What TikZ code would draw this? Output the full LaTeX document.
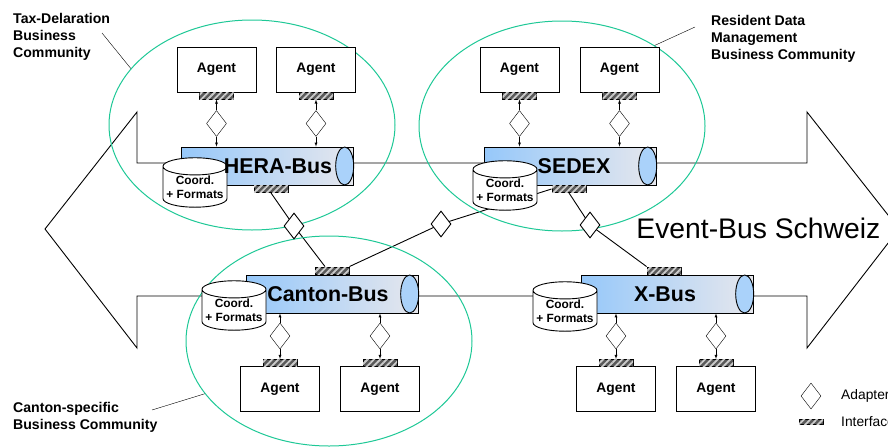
\documentclass[tikz,border=0pt]{standalone}
\usepackage{fontspec}
\setmainfont{Liberation Sans}
\usepackage{tikz}
\usetikzlibrary{shapes.geometric,patterns.meta,backgrounds,calc}
\definecolor{communitygreen}{RGB}{30,200,150}
\definecolor{busblue}{RGB}{150,200,250}
\definecolor{busgray}{RGB}{230,231,237}
\definecolor{capblue}{RGB}{170,210,250}
\tikzstyle{agent} = [rectangle, draw, fill=white, minimum width=79pt, minimum height=45pt, inner sep=0pt, font=\fontsize{13.8}{16}\selectfont\bfseries]
\tikzstyle{interface} = [rectangle, draw, fill=black!65, postaction={pattern={Lines[angle=45,distance=4.5pt,line width=1.8pt]}, pattern color=white!80!black}, minimum width=34pt, minimum height=7pt, inner sep=0pt]
\tikzstyle{adapter} = [diamond, draw, fill=white, minimum width=20pt, minimum height=26pt, inner sep=0pt]
\tikzstyle{bus} = [cylinder, draw, left color=busblue, right color=busgray, minimum width=38pt, minimum height=172pt, aspect=0.5, inner sep=0pt]
\tikzstyle{buslabel} = [inner sep=0pt, font=\fontsize{21.4}{24}\selectfont\bfseries]
\tikzstyle{store} = [cylinder, shape border rotate=90, draw, fill=white, minimum width=64pt, minimum height=42pt, aspect=0.3, inner sep=0pt, align=center, font=\fontsize{11.9}{14.5}\selectfont\bfseries]
\tikzstyle{region} = [ellipse, draw=communitygreen, line width=1pt, minimum width=286pt, minimum height=210pt]
\tikzstyle{caption} = [align=left, inner sep=0pt, anchor=north west, font=\fontsize{14.1}{17}\selectfont\bfseries]
\tikzstyle{link} = [line width=0.9pt]
\tikzstyle{connector} = [->, >=latex]

\begin{document}
\begin{tikzpicture}[x=1pt,y=-1pt,line width=0.9pt]
    \useasboundingbox (0,0) rectangle (888,447);
    \clip (0,0) rectangle (888,447);
    \draw (137,112) -- (45,229) -- (137,348) -- (137,296) -- (807,296) -- (807,348) -- (899,229) -- (807,112) -- (807,163) -- (137,163) -- cycle;
    \node (event-bus) [anchor=west, inner sep=0pt, font=\fontsize{28.3}{32}\selectfont] at (636,228) {Event-Bus Schweiz};
    \node (tax-region) [region] at (252,125) {};
    \node (resident-region) [region] at (562,126) {};
    \node (canton-region) [region] at (329,341) {};

    \node (hera-bus) [bus] at (267,166) {};
    \node (sedex-bus) [bus] at (570,166) {};
    \node (canton-bus) [bus] at (332,294) {};
    \node (x-bus) [bus] at (667,294) {};
    \foreach \b in {hera-bus,sedex-bus,canton-bus,x-bus}
        \draw [fill=capblue] ($(\b.top)+(-9,0)$) ellipse [x radius=9, y radius=19];
    \node (hera-store) [store] at (195,187) {Coord.\\+ Formats};
    \node (sedex-store) [store] at (505,190) {Coord.\\+ Formats};
    \node (canton-store) [store] at (234,310) {Coord.\\+ Formats};
    \node (x-store) [store] at (565,311) {Coord.\\+ Formats};
    \node (hera-name) [buslabel] at (278,166) {HERA-Bus};
    \node (sedex-name) [buslabel] at (574,166) {SEDEX};
    \node (canton-name) [buslabel] at (328,294) {Canton-Bus};
    \node (x-name) [buslabel] at (665,294) {X-Bus};

    \node (hera-if) [interface] at (271,189) {};
    \node (sedex-if) [interface] at (569,189) {};
    \node (canton-if) [interface] at (332,270.5) {};
    \node (x-if) [interface] at (664,270.5) {};
    \node (hera-canton) [adapter] at (294,226) {};
    \node (canton-sedex) [adapter] at (441,224) {};
    \node (sedex-x) [adapter] at (590,225) {};
    \begin{pgfonlayer}{background}
        \draw [link] (hera-if.south) -- (hera-canton.center) -- ([xshift=-7pt]canton-if.north);
        \draw [link] (canton-if.north east) -- (canton-sedex.center) -- (sedex-if.west);
        \draw [link] (sedex-if.south) -- (sedex-x.center) -- (x-if.north west);
    \end{pgfonlayer}

    \node (hera-agent-a) [agent] at (216.5,69.5) {Agent};
    \node (hera-agent-b) [agent] at (316,69.5) {Agent};
    \node (sedex-agent-a) [agent] at (519.5,69.5) {Agent};
    \node (sedex-agent-b) [agent] at (619.5,69.5) {Agent};
    \node (canton-agent-a) [agent] at (280,389) {Agent};
    \node (canton-agent-b) [agent] at (380,389) {Agent};
    \node (x-agent-a) [agent] at (616,389) {Agent};
    \node (x-agent-b) [agent] at (716,389) {Agent};
    \foreach \a in {hera-agent-a,hera-agent-b,sedex-agent-a,sedex-agent-b}
        \node (\a-if) [interface, anchor=north] at (\a.south) {};
    \foreach \a in {canton-agent-a,canton-agent-b,x-agent-a,x-agent-b}
        \node (\a-if) [interface, anchor=south] at (\a.north) {};
    \foreach \a/\b in {hera-agent-a/hera-bus,hera-agent-b/hera-bus,sedex-agent-a/sedex-bus,sedex-agent-b/sedex-bus} {
        \node (\a-adapter) [adapter] at (\a |- 0,123.5) {};
        \draw [connector] (\a-adapter) -- (\a-if);
        \draw [connector] (\a-adapter) -- (\a-adapter |- \b.north);
    }
    \foreach \a/\b in {canton-agent-a/canton-bus,canton-agent-b/canton-bus,x-agent-a/x-bus,x-agent-b/x-bus} {
        \node (\a-adapter) [adapter] at (\a |- 0,336) {};
        \draw [connector] (\a-adapter) -- (\a-if);
        \draw [connector] (\a-adapter) -- (\a-adapter |- \b.south);
    }

    \node (tax-caption) [caption] at (13,13) {Tax-Delaration\\Business\\Community};
    \node (resident-caption) [caption] at (711,15) {Resident Data\\Management\\Business Community};
    \node (canton-caption) [caption] at (13,402) {Canton-specific\\Business Community};
    \coordinate (tax-pointer) at (102,33);
    \coordinate (resident-pointer) at (695,27);
    \coordinate (canton-pointer) at (152,410);
    \draw (tax-pointer) -- (tax-region.155);
    \draw (resident-pointer) -- (resident-region.41);
    \draw (canton-pointer) -- (canton-region.203);

    \node (adapter-key) [adapter] at (811,396) {};
    \node (adapter-text) [anchor=west, inner sep=0pt, font=\fontsize{13.8}{16}\selectfont] at (841,396) {Adapter};
    \node (interface-key) [interface, minimum width=24pt, minimum height=5pt] at (811,422) {};
    \node (interface-text) [anchor=west, inner sep=0pt, font=\fontsize{13.8}{16}\selectfont] at (841,422) {Interface};
\end{tikzpicture}
\end{document}
